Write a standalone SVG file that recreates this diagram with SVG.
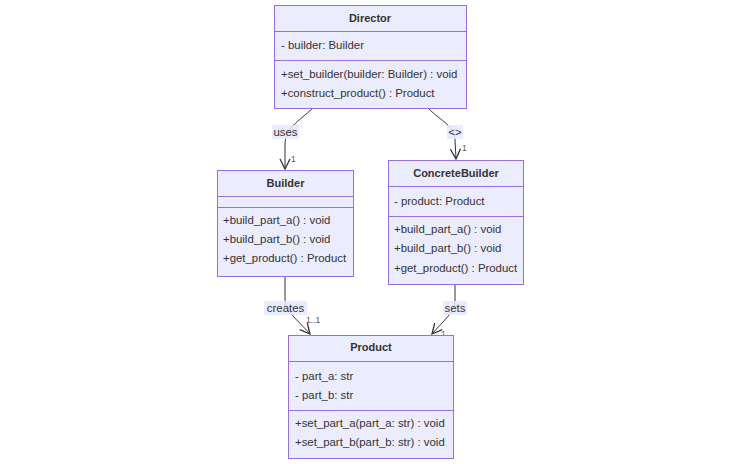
<svg xmlns="http://www.w3.org/2000/svg" width="741" height="464" viewBox="0 0 741 464">
<style>
.box{fill:#ECECFF;stroke:#9370DB;stroke-width:1}
.div{stroke:#9370DB;stroke-width:1}
text{font-family:"Liberation Sans",Arial,sans-serif;font-size:11.4px;fill:#333}
.title{text-anchor:middle;fill:#333;font-weight:bold;font-size:11px}
.edge{fill:none;stroke:#333;stroke-width:1}
.lbl{fill:rgba(232,232,255,0.85)}
.card{font-size:8.5px;fill:#555}
.el{text-anchor:middle}
</style>
<defs>
<marker id="arr" viewBox="0 0 12 12" refX="11" refY="6" markerWidth="12" markerHeight="12" orient="auto" markerUnits="userSpaceOnUse">
<path d="M1,1 L11,6 L1,11" fill="none" stroke="#333" stroke-width="1.3"/>
</marker>
</defs>
<rect width="741" height="464" fill="#fff"/>
<g id="connectors">
<path class="edge" d="M313,108 C298,122 285,128 285,145 L285,169" marker-end="url(#arr)"/>
<path class="edge" d="M428,108 C442,122 455,126 455,140 L456,159" marker-end="url(#arr)"/>
<path class="edge" d="M285,276 L285,298 C285,312 298,320 310,334" marker-end="url(#arr)"/>
<path class="edge" d="M455,284 L455,300 C455,312 444,320 432,334" marker-end="url(#arr)"/>
<rect class="lbl" x="272" y="125" width="27" height="14"/>
<text class="el" x="285.5" y="136">uses</text>
<rect class="lbl" x="447" y="125" width="16" height="14"/>
<text class="el" x="455" y="136">&lt;&gt;</text>
<rect class="lbl" x="264" y="301" width="43" height="14"/>
<text class="el" x="285.5" y="312">creates</text>
<rect class="lbl" x="443" y="301" width="24" height="14"/>
<text class="el" x="455" y="312">sets</text>
<text class="card" x="291" y="162">1</text>
<text class="card" x="462" y="151">1</text>
<text class="card" x="306" y="323">1..1</text>
<text class="card" x="441" y="337">1</text>
</g>
<g id="Director">
<rect class="box" x="274.5" y="5.5" width="192" height="103"/>
<line class="div" x1="274.5" y1="31.5" x2="466.5" y2="31.5"/>
<line class="div" x1="274.5" y1="60.5" x2="466.5" y2="60.5"/>
<text class="title" x="370" y="22">Director</text>
<text x="281" y="49">- builder: Builder</text>
<text x="281" y="78">+set_builder(builder: Builder) : void</text>
<text x="281" y="97">+construct_product() : Product</text>
</g>
<g id="Builder">
<rect class="box" x="217.5" y="170.5" width="136" height="106"/>
<line class="div" x1="217.5" y1="196.5" x2="353.5" y2="196.5"/>
<line class="div" x1="217.5" y1="207.5" x2="353.5" y2="207.5"/>
<text class="title" x="285.5" y="187">Builder</text>
<text x="223" y="224">+build_part_a() : void</text>
<text x="223" y="243">+build_part_b() : void</text>
<text x="223" y="262">+get_product() : Product</text>
</g>
<g id="ConcreteBuilder">
<rect class="box" x="388.5" y="160.5" width="135" height="124"/>
<line class="div" x1="388.5" y1="186.5" x2="523.5" y2="186.5"/>
<line class="div" x1="388.5" y1="216.5" x2="523.5" y2="216.5"/>
<text class="title" x="456" y="177">ConcreteBuilder</text>
<text x="394" y="205">- product: Product</text>
<text x="394" y="233">+build_part_a() : void</text>
<text x="394" y="252">+build_part_b() : void</text>
<text x="394" y="272">+get_product() : Product</text>
</g>
<g id="Product">
<rect class="box" x="288.5" y="335.5" width="165" height="123"/>
<line class="div" x1="288.5" y1="361.5" x2="453.5" y2="361.5"/>
<line class="div" x1="288.5" y1="410.5" x2="453.5" y2="410.5"/>
<text class="title" x="371" y="351">Product</text>
<text x="295" y="380">- part_a: str</text>
<text x="295" y="399">- part_b: str</text>
<text x="295" y="427">+set_part_a(part_a: str) : void</text>
<text x="295" y="446">+set_part_b(part_b: str) : void</text>
</g>
</svg>
